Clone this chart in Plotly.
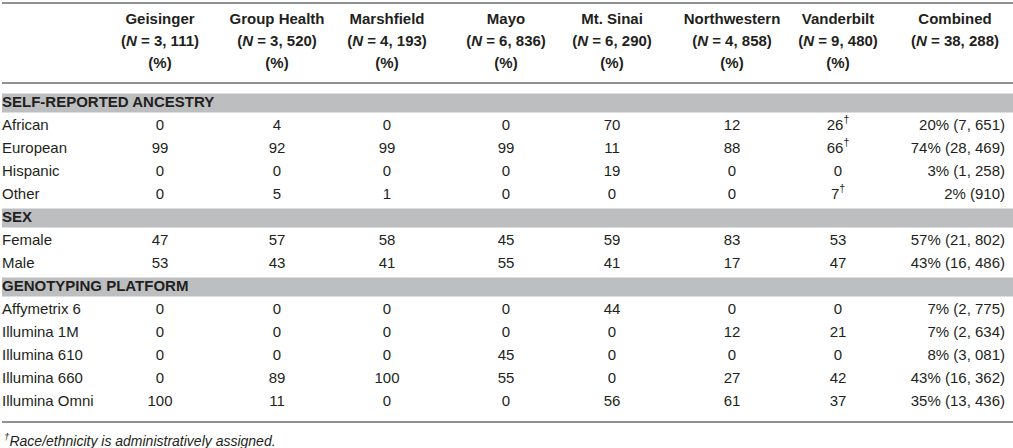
import plotly.graph_objects as go

# eMERGE sites and their sample sizes
sites = ["Geisinger", "Group Health", "Marshfield", "Mayo", "Mt. Sinai", "Northwestern", "Vanderbilt"]
site_n = [3111, 3520, 4193, 6836, 6290, 4858, 9480]
combined_n_total = 38288

sections = ["SELF-REPORTED ANCESTRY", "SEX", "GENOTYPING PLATFORM"]

ancestry_rows = ["African", "European", "Hispanic", "Other"]
ancestry_pct = [
    [0, 4, 0, 0, 70, 12, 26],
    [99, 92, 99, 99, 11, 88, 66],
    [0, 0, 0, 0, 19, 0, 0],
    [0, 5, 1, 0, 0, 0, 7],
]
ancestry_combined_pct = [20, 74, 3, 2]
ancestry_combined_n = [7651, 28469, 1258, 910]
# Vanderbilt race/ethnicity is administratively assigned
ancestry_assigned = [True, True, False, True]

sex_rows = ["Female", "Male"]
sex_pct = [
    [47, 57, 58, 45, 59, 83, 53],
    [53, 43, 41, 55, 41, 17, 47],
]
sex_combined_pct = [57, 43]
sex_combined_n = [21802, 16486]

platform_rows = ["Affymetrix 6", "Illumina 1M", "Illumina 610", "Illumina 660", "Illumina Omni"]
platform_pct = [
    [0, 0, 0, 0, 44, 0, 0],
    [0, 0, 0, 0, 0, 12, 21],
    [0, 0, 0, 45, 0, 0, 0],
    [0, 89, 100, 55, 0, 27, 42],
    [100, 11, 0, 0, 56, 61, 37],
]
platform_combined_pct = [7, 7, 8, 43, 35]
platform_combined_n = [2775, 2634, 3081, 16362, 13436]

footnote = "<sup>†</sup>Race/ethnicity is administratively assigned."

# layout constants (pixels)
W, H = 1013, 448
LABEL_X = 2
COL_X = [160, 277, 387, 506, 612, 732, 838]
COMB_HEAD_X = 955
COMB_RIGHT_X = 1005
HEAD_Y = [20, 42, 64]
ROW0_Y = 103
ROW_PITCH = 23
BAND_H = 19
FS = 15
TEXT = "#231f20"
BAND = "#bcbec0"
RULE = "#8f9194"
FONT = "Liberation Sans, Arial, sans-serif"


def fmt_n(n):
    return f"{n:,}".replace(",", ", ")


blocks = [
    (sections[0], ancestry_rows, ancestry_pct, ancestry_combined_pct, ancestry_combined_n, ancestry_assigned),
    (sections[1], sex_rows, sex_pct, sex_combined_pct, sex_combined_n, [False] * len(sex_rows)),
    (sections[2], platform_rows, platform_pct, platform_combined_pct, platform_combined_n,
     [False] * len(platform_rows)),
]

lab_y, lab_t = [], []
sec_y, sec_t = [], []
cell_x, cell_y, cell_t = [], [], []
comb_y, comb_t = [], []

slot = 0
for title, rows, pct, cpct, cn, flag in blocks:
    sec_y.append(ROW0_Y + slot * ROW_PITCH)
    sec_t.append(f"<b>{title}</b>")
    slot += 1
    for i, name in enumerate(rows):
        y = ROW0_Y + slot * ROW_PITCH
        lab_y.append(y)
        lab_t.append(name)
        for j, v in enumerate(pct[i]):
            cell_x.append(COL_X[j])
            cell_y.append(y)
            txt = str(v)
            if flag[i] and sites[j] == "Vanderbilt":
                txt += "<sup>†</sup>"
            cell_t.append(txt)
        comb_y.append(y)
        comb_t.append(f"{cpct[i]}% ({fmt_n(cn[i])})")
        slot += 1

last_y = ROW0_Y + (slot - 1) * ROW_PITCH

fig = go.Figure()

# grey section bands
for y in sec_y:
    fig.add_shape(type="rect", xref="x", yref="y", x0=2, x1=W, y0=y - BAND_H / 2, y1=y + BAND_H / 2,
                  fillcolor=BAND, line_width=0, layer="below")

# horizontal rules
for y in [3, 83, last_y + 20]:
    fig.add_shape(type="line", xref="paper", yref="y", x0=0.002, x1=1, y0=y, y1=y,
                  line=dict(color=RULE, width=2), layer="above")

# header
head_x, head_y, head_t = [], [], []
for j, s in enumerate(sites):
    head_x += [COL_X[j]] * 3
    head_y += HEAD_Y
    head_t += [f"<b>{s}</b>", f"<b>(<i>N</i> = {fmt_n(site_n[j])})</b>", "<b>(%)</b>"]
head_x += [COMB_HEAD_X] * 2
head_y += HEAD_Y[:2]
head_t += ["<b>Combined</b>", f"<b>(<i>N</i> = {fmt_n(combined_n_total)})</b>"]

fig.add_trace(go.Scatter(x=head_x, y=head_y, text=head_t, mode="text",
                         textposition="middle center", textfont=dict(size=FS, color=TEXT)))
fig.add_trace(go.Scatter(x=[LABEL_X] * len(sec_y), y=sec_y, text=sec_t, mode="text",
                         textposition="middle right", textfont=dict(size=FS, color=TEXT)))
fig.add_trace(go.Scatter(x=[LABEL_X] * len(lab_y), y=lab_y, text=lab_t, mode="text",
                         textposition="middle right", textfont=dict(size=FS, color=TEXT)))
fig.add_trace(go.Scatter(x=cell_x, y=cell_y, text=cell_t, mode="text",
                         textposition="middle center", textfont=dict(size=FS, color=TEXT)))
fig.add_trace(go.Scatter(x=[COMB_RIGHT_X] * len(comb_y), y=comb_y, text=comb_t, mode="text",
                         textposition="middle left", textfont=dict(size=FS, color=TEXT)))

fig.add_annotation(x=LABEL_X, y=last_y + 38, xref="x", yref="y", text=f"<i>{footnote}</i>",
                   showarrow=False, xanchor="left", yanchor="middle",
                   font=dict(size=FS - 1, color=TEXT))

fig.update_layout(
    width=W, height=H,
    margin=dict(l=0, r=0, t=0, b=0),
    paper_bgcolor="white", plot_bgcolor="white",
    showlegend=False, hovermode=False,
    font=dict(family=FONT, color=TEXT),
    xaxis=dict(range=[0, W], visible=False, fixedrange=True),
    yaxis=dict(range=[H, 0], visible=False, fixedrange=True),
)

fig.write_html("out.html", config={"displayModeBar": False},
               post_script="document.body.style.margin='0';")
